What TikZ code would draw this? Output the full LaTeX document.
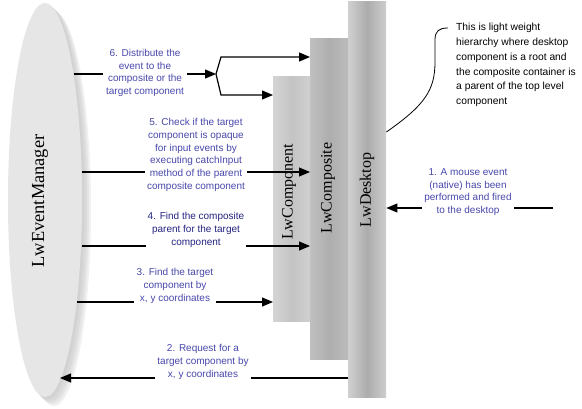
\documentclass[tikz,border=0pt]{standalone}
\usepackage{fontspec}
\setmainfont{Liberation Serif}
\setsansfont{Liberation Sans}
\usetikzlibrary{arrows.meta}
\definecolor{bluetxt}{RGB}{72,72,172}
\definecolor{bluedark}{RGB}{36,36,128}
\definecolor{mgrfill}{RGB}{230,230,230}
\tikzset{
  arr/.style={line width=1.2pt,-{Triangle[length=11pt,width=9pt]}},
  plain/.style={line width=1.2pt},
  steptext/.style={fill=white,inner xsep=3pt,inner ysep=1pt,align=center,text=bluetxt,
    font=\sffamily\fontsize{10}{12.7}\selectfont},
  barbox/.style={anchor=north west,inner sep=0pt,draw=none},
  barlabel/.style={rotate=90,font=\rmfamily\fontsize{16}{18}\selectfont},
}
\begin{document}
\begin{tikzpicture}[x=1pt,y=-1pt]
\useasboundingbox[fill=white] (0,0) rectangle (582,409);
% shadow of the manager ellipse
\fill[color={rgb,255:red,240;green,240;blue,240}] (54,209) ellipse [x radius=37pt,y radius=197pt];
\fill[color={rgb,255:red,228;green,228;blue,228}] (52,207) ellipse [x radius=37pt,y radius=197pt];
\fill[color={rgb,255:red,218;green,218;blue,218}] (50,205) ellipse [x radius=37pt,y radius=197pt];
\fill[color={rgb,255:red,210;green,210;blue,210}] (47.5,202.5) ellipse [x radius=37pt,y radius=197pt];
\fill[mgrfill] (45,200) ellipse [x radius=37pt,y radius=197pt];
\coordinate (mgr) at (45,200);
\node[barlabel,font=\rmfamily\fontsize{18.4}{20}\selectfont] (mgrlabel) at (40,201) {LwEventManager};
% bars
\node[barbox,minimum width=38pt,minimum height=396pt,
  left color={rgb,255:red,208;green,208;blue,208},right color={rgb,255:red,206;green,206;blue,206},
  middle color={rgb,255:red,172;green,172;blue,172}] (desk) at (348,1) {};
\node[barbox,minimum width=38pt,minimum height=321pt,
  left color={rgb,255:red,192;green,192;blue,192},right color={rgb,255:red,188;green,188;blue,188},
  middle color={rgb,255:red,174;green,174;blue,174}] (cmpo) at (310,38) {};
\node[barbox,minimum width=37pt,minimum height=245pt,
  left color={rgb,255:red,212;green,212;blue,212},right color={rgb,255:red,208;green,208;blue,208},
  middle color={rgb,255:red,196;green,196;blue,196}] (comp) at (273,76) {};
\node[barlabel] (complabel) at (289,192) {LwComponent};
\node[barlabel] (cmpolabel) at (328,188) {LwComposite};
\node[barlabel] (desklabel) at (367,190) {LwDesktop};
% connector end points
\coordinate (m6) at (74,74);
\coordinate (f6) at (216,74);
\coordinate (f6u) at (221,57);
\coordinate (f6d) at (221,95);
\coordinate (m5) at (82,172);
\coordinate (m4) at (82,246);
\coordinate (m3) at (77,302);
\coordinate (m2) at (60,378);
\coordinate (s1) at (553,208);
% connectors
\draw[arr] (m6) -- (f6);
\draw[arr] (f6) -- (f6u) -- (cmpo.west |- f6u);
\draw[arr] (f6) -- (f6d) -- (comp.west |- f6d);
\draw[arr] (m5) -- (cmpo.west |- m5);
\draw[arr] (m4) -- (cmpo.west |- m4);
\draw[arr] (m3) -- (comp.west |- m3);
\draw[arr] (desk.west |- m2) -- (m2);
\draw[arr] (s1) -- (desk.east |- s1);
% step texts
\node[steptext] (t6) at (145,73) {6. Distribute the\\event to the\\composite or the\\target component};
\node[steptext,inner xsep=2pt] (t5) at (196,155) {5. Check if the target\\component is opaque\\for input events by\\executing catchInput\\method of the parent\\composite component};
\node[steptext,inner xsep=2pt,text=bluedark] (t4) at (196,230) {4. Find the composite\\parent for the target\\component};
\node[steptext,inner xsep=2.5pt] (t3) at (175,286) {3. Find the target\\component by\\x, y coordinates};
\node[steptext,inner xsep=2pt] (t2) at (203,362) {2. Request for a\\target component by\\x, y coordinates};
\node[steptext,inner xsep=2.5pt] (t1) at (468,192) {1. A mouse event\\(native) has been\\performed and fired\\to the desktop};
% note
\node[anchor=north west,inner sep=0pt,align=left,font=\sffamily\fontsize{10.3}{14.8}\selectfont] (note) at (456,23)
  {This is light weight\\hierarchy where desktop\\component is a root and\\the composite container is\\a parent of the top level\\component};
\coordinate (c1) at (386,132);
\draw[line width=0.8pt] (desk.east |- c1) .. controls (425,105) and (435,90) .. (435,62) -- (435,40)
  .. controls (435,31) and (439,28) .. (448,28);
\end{tikzpicture}
\end{document}
